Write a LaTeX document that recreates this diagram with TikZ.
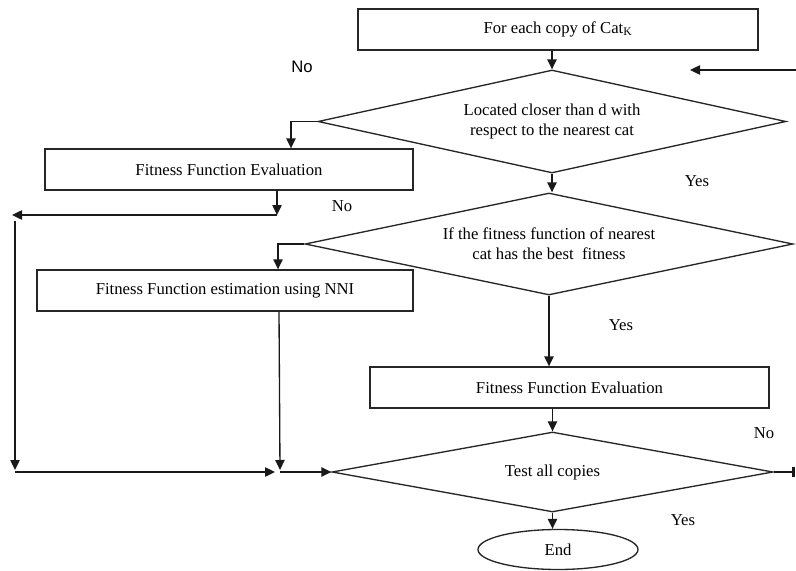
\documentclass[tikz,border=0pt]{standalone}
\usepackage{fontspec}
\setmainfont{Liberation Serif}
\newfontfamily\labelsans{Liberation Sans}
\usepackage{tikz}
\usetikzlibrary{positioning,arrows.meta,shapes.geometric}
\tikzset{
    procbox/.style={draw=black!85, line width=1pt, rectangle, minimum height=30.75pt, inner sep=2pt, font=\fontsize{12.5}{15}\selectfont},
    decision/.style={draw=black!85, line width=1pt, diamond, aspect=4.5, inner sep=0pt, align=center, font=\fontsize{12.5}{15}\selectfont},
    terminal/.style={draw=black!85, line width=1pt, ellipse, inner sep=0pt, font=\fontsize{12.5}{15}\selectfont},
    flow/.style={-{Triangle[length=7.5pt,width=7pt]}, line width=1pt, draw=black!90},
    yesno/.style={font=\fontsize{12.5}{15}\selectfont}
}

\begin{document}
\begin{tikzpicture}[x=0.75pt, y=-0.75pt]
    \useasboundingbox (0,0) rectangle (796,571);

    % Steps of the loop
    \node[procbox, minimum width=300pt] (start) at (558,29.5) {For each copy of Cat\textsubscript{K}};
    \node[decision, minimum width=351pt, minimum height=77.25pt] (near) at (552,121.5) {Located closer than d with\\respect to the nearest cat};
    \node[procbox, minimum width=276pt] (evalA) at (229,169.5) {Fitness Function Evaluation};
    \node[decision, minimum width=366pt, minimum height=76.5pt] (best) at (549,244) {If the fitness function of nearest\\cat has the best~ fitness};
    \node[procbox, minimum width=282pt] (nni) at (225,290.5) {Fitness Function estimation using NNI};
    \node[procbox, minimum width=299.25pt] (evalB) at (569.5,387.5) {Fitness Function Evaluation};
    \node[decision, minimum width=330.75pt, minimum height=60pt] (test) at (552.5,472) {Test all copies};
    \node[terminal, minimum width=120pt, minimum height=30pt] (stop) at (558,549.5) {End};

    % Loose ends and junctions
    \coordinate (backR) at (796,70);
    \coordinate (backL) at (690,70);
    \coordinate (jA) at (277,215);
    \coordinate (jL) at (12,215);
    \coordinate (jLtop) at (15,221);
    \coordinate (jLbot) at (15,470);
    \coordinate (jB) at (275,472);
    \coordinate (jN) at (280,470);
    \coordinate (exitR) at (795,472);

    % Main line
    \draw[flow] (near.north |- start.south) -- (near.north);
    \draw[flow] (near.south) -- (near.south |- best.north);
    \draw[flow] (best.south) -- (best.south |- evalB.north);
    \draw[flow] (test.north |- evalB.south) -- (test.north);
    \draw[flow] (test.south) -- (test.south |- stop.north);

    % Left branches
    \draw[flow] (near.west) -| ([xshift=46.5pt]evalA.north);
    \draw[flow] ([xshift=36pt]evalA.south) -- (jA);
    \draw[flow] (jA) -- (jL);
    \draw[flow] (jLtop) -- (jLbot);
    \draw[flow] (jLbot |- jB) -- (jB);
    \draw[flow] (best.west) -| ([xshift=39.75pt]nni.north);
    \draw[flow] ([xshift=40.5pt]nni.south) -- (jN);
    \draw[flow] (jN |- test.west) -- (test.west);

    % Back to the top
    \draw[flow] (backR) -- (backL);
    \draw[line width=1pt, draw=black!90, -{Bar[width=7pt,line width=2pt]}] (test.east) -- (exitR);

    % Yes / No
    \node[font={\labelsans\fontsize{12.5}{15}\selectfont}] (noA) at (302,67) {No};
    \node[yesno] (yesA) at (697,181) {Yes};
    \node[yesno] (noB) at (342,206) {No};
    \node[yesno] (yesB) at (621,325) {Yes};
    \node[yesno] (noC) at (764,433) {No};
    \node[yesno] (yesC) at (683,520) {Yes};
\end{tikzpicture}
\end{document}
